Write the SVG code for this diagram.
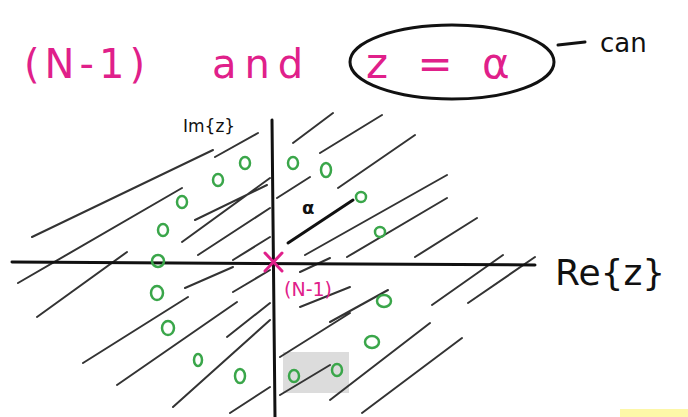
<svg xmlns="http://www.w3.org/2000/svg" width="688" height="417" viewBox="0 0 688 417">
<style>
.h{stroke:#333;stroke-width:2;stroke-linecap:round;fill:none}
.ax{stroke:#111;stroke-width:3;stroke-linecap:round;fill:none}
.g{stroke:#3aa64a;stroke-width:2.5;fill:none}
.pk{fill:#e0208a;font-family:"DejaVu Sans",sans-serif}
.bk{fill:#111;font-family:"DejaVu Sans",sans-serif}
</style>
<rect width="688" height="417" fill="#fff"/>
<rect x="620" y="409" width="68" height="8" fill="#fdf7a8"/>
<rect x="283" y="352" width="66" height="41" fill="#dcdcdc"/>
<g id="hatch">
<path class="h" d="M32 237L213 150M215 157L258 133M18 283L182 188M37 317L127 252M182 242L270 178M195 220L267 185M198 255L270 208M233 260L270 237M185 288L233 267M233 292L270 270M83 363L188 297M117 385L237 302M173 407L270 320M227 337L270 303M230 413L270 387"/>
<path class="h" d="M293 143L333 113M320 153L382 115M338 188L415 135M277 198L310 177M305 255L447 175M347 257L447 198M415 257L477 218M432 305L503 255M468 303L535 257M300 272L330 258M330 322L388 290M330 400L430 323M362 413L462 338M280 357L350 313M300 307L350 287M280 395L330 365"/>
</g>
<g id="axes">
<path class="ax" d="M12 262L535 265"/>
<path class="ax" d="M272 120L275 417"/>
<path d="M288 243L353 200" stroke="#111" stroke-width="3" stroke-linecap="round"/>
</g>
<g id="zeros">
<ellipse class="g" cx="293" cy="163" rx="5" ry="6"/>
<ellipse class="g" cx="326" cy="170" rx="5" ry="7"/>
<ellipse class="g" cx="245" cy="163" rx="5" ry="6"/>
<ellipse class="g" cx="218" cy="180" rx="5" ry="6"/>
<ellipse class="g" cx="182" cy="202" rx="5" ry="6"/>
<ellipse class="g" cx="163" cy="230" rx="5" ry="6"/>
<ellipse class="g" cx="158" cy="261" rx="6" ry="6"/>
<ellipse class="g" cx="157" cy="293" rx="6" ry="7"/>
<ellipse class="g" cx="168" cy="328" rx="6" ry="7"/>
<ellipse class="g" cx="198" cy="360" rx="4" ry="6"/>
<ellipse class="g" cx="240" cy="376" rx="5" ry="7"/>
<ellipse class="g" cx="294" cy="376" rx="5" ry="6"/>
<ellipse class="g" cx="337" cy="370" rx="5" ry="6"/>
<ellipse class="g" cx="361" cy="197" rx="5" ry="5"/>
<ellipse class="g" cx="380" cy="232" rx="5" ry="5"/>
<ellipse class="g" cx="384" cy="301" rx="7" ry="6"/>
<ellipse class="g" cx="372" cy="342" rx="7" ry="6"/>
</g>
<g id="pole">
<path d="M265 253L282 271M282 253L265 271" stroke="#e0208a" stroke-width="3" stroke-linecap="round"/>
<text class="pk" x="284" y="296" font-size="19">(N-1)</text>
</g>
<g id="labels">
<text class="bk" x="302" y="214" font-size="18" font-weight="bold">α</text>
<text class="bk" x="183" y="132" font-size="17">Im{z}</text>
<text class="bk" x="555" y="285" font-size="36">Re{z}</text>
<text class="pk" x="24" y="78" font-size="40" letter-spacing="5">(N-1)</text>
<text class="pk" x="212" y="78" font-size="40" letter-spacing="8">and</text>
<ellipse cx="452" cy="62" rx="102" ry="37" fill="none" stroke="#111" stroke-width="3"/>
<text class="pk" x="366" y="78" font-size="42" letter-spacing="8">z = α</text>
<path d="M558 45L585 42" stroke="#111" stroke-width="3" stroke-linecap="round"/>
<text class="bk" x="600" y="52" font-size="26">can</text>
</g>
</svg>
